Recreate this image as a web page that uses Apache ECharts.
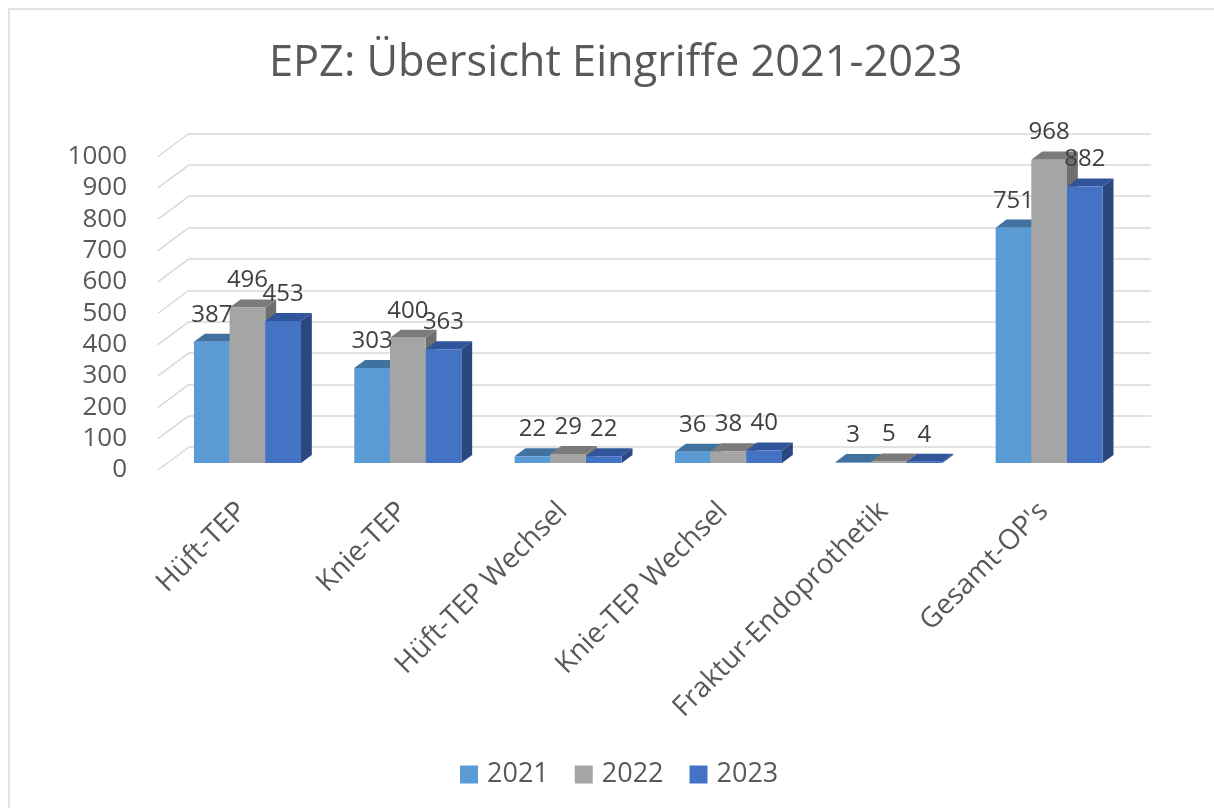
<!DOCTYPE html>
<html>
<head>
<meta charset="utf-8">
<script src="https://cdn.jsdelivr.net/npm/echarts@6/dist/echarts.min.js"></script>
<style>
  html, body { margin: 0; padding: 0; background: #fff; }
  #chart { width: 1214px; height: 808px; }
</style>
</head>
<body>
<div id="chart"></div>
<script>
const categories = ["Hüft-TEP", "Knie-TEP", "Hüft-TEP Wechsel", "Knie-TEP Wechsel", "Fraktur-Endoprothetik", "Gesamt-OP's"]
const years = ["2021", "2022", "2023"]
const values2021 = [387, 303, 22, 36, 3, 751]
const values2022 = [496, 400, 29, 38, 5, 968]
const values2023 = [453, 363, 22, 40, 4, 882]
const yTicks = [0, 100, 200, 300, 400, 500, 600, 700, 800, 900, 1000]

// face colours: front, top, side
const palette = [
  { front: "#5B9BD5", top: "#41729F", side: "#3A6690" },
  { front: "#A5A5A5", top: "#7B7B7B", side: "#6F6F6F" },
  { front: "#4472C4", top: "#30559A", side: "#2A4780" },
]

// oblique depth of the floor (front edge -> back wall)
const depthX = 31
const depthY = -23
const barStart = 0.3   // bar front face sits at this fraction of the depth
const barDepth = 0.35
const barShare = 0.2225 // bar width as share of the category band

const gridFront = { left: 158, top: 156.5, width: 962, height: 313.5 }
const gridBack = { left: 158 + depthX, top: 156.5 + depthY, width: 962, height: 313.5 }
const gridLabels = { left: 162, top: 156.5, width: 962, height: 313.5 }

function barRenderer(k) {
  const c = palette[k]
  return function (params, api) {
    const cat = api.value(0)
    const val = api.value(1)
    const base = api.coord([cat, 0])
    const top = api.coord([cat, val])
    const band = api.size([1, 0])[0]
    const w = band * barShare
    const x0 = base[0] - 1.5 * w + k * w + depthX * barStart
    const yb = base[1] + depthY * barStart
    const yt = top[1] + depthY * barStart
    const dx = depthX * barDepth
    const dy = depthY * barDepth
    return {
      type: "group",
      children: [
        {
          type: "polygon",
          shape: { points: [[x0 + w, yt], [x0 + w + dx, yt + dy], [x0 + w + dx, yb + dy], [x0 + w, yb]] },
          style: { fill: c.side },
        },
        {
          type: "polygon",
          shape: { points: [[x0, yt], [x0 + w, yt], [x0 + w + dx, yt + dy], [x0 + dx, yt + dy]] },
          style: { fill: c.top },
        },
        {
          type: "rect",
          shape: { x: x0, y: yt, width: w, height: yb - yt },
          style: { fill: c.front },
        },
        {
          type: "text",
          z2: 10,
          style: {
            text: String(val),
            x: x0 + w / 2,
            y: yt - 27,
            align: "center",
            verticalAlign: "middle",
            fill: "#404040",
            font: "24px 'Open Sans'",
          },
        },
      ],
    }
  }
}

const chart = echarts.init(document.getElementById("chart"))

const series = [
  {
    name: "floor",
    type: "custom",
    xAxisIndex: 0,
    yAxisIndex: 0,
    silent: true,
    z: 1,
    data: yTicks.map((v) => [0, v]),
    renderItem: (params, api) => {
      const p = api.coord([0, api.value(1)])
      const x = params.coordSys.x
      return {
        type: "line",
        shape: { x1: x, y1: p[1], x2: x + depthX, y2: p[1] + depthY },
        style: { stroke: "#D9D9D9", lineWidth: 1.5 },
      }
    },
  },
]

;[values2021, values2022, values2023].forEach((vals, k) => {
  series.push({
    name: years[k],
    type: "custom",
    xAxisIndex: 0,
    yAxisIndex: 0,
    z: 3,
    itemStyle: { color: palette[k].front },
    encode: { x: 0, y: 1 },
    data: vals.map((v, i) => [i, v]),
    renderItem: barRenderer(k),
  })
})

chart.setOption({
  backgroundColor: "#fff",
  animation: false,
  title: {
    text: "EPZ: Übersicht Eingriffe 2021-2023",
    left: 264,
    top: 37,
    textStyle: { fontFamily: "Open Sans", fontSize: 43.3, fontWeight: "normal", color: "#595959" },
  },
  legend: {
    data: years,
    top: 756,
    left: 455,
    icon: "rect",
    itemWidth: 18,
    itemHeight: 18,
    itemGap: 26,
    textStyle: { fontFamily: "Open Sans", fontSize: 27, color: "#595959", padding: [0, 0, 0, 4] },
  },
  graphic: [
    {
      type: "rect",
      silent: true,
      shape: { x: 9, y: 9, width: 1300, height: 900 },
      style: { fill: "none", stroke: "#D9D9D9", lineWidth: 1.5 },
    },
  ],
  grid: [gridFront, gridBack, gridLabels],
  xAxis: [
    { gridIndex: 0, type: "category", data: categories, show: false },
    { gridIndex: 1, type: "category", data: categories, show: false },
    {
      gridIndex: 2,
      type: "category",
      data: categories,
      axisLine: { show: false },
      axisTick: { show: false },
      axisLabel: {
        rotate: 45,
        margin: 37,
        interval: 0,
        fontFamily: "Open Sans",
        fontSize: 28,
        color: "#595959",
      },
    },
  ],
  yAxis: [
    {
      gridIndex: 0,
      type: "value",
      min: 0,
      max: 1000,
      interval: 100,
      axisLine: { show: false },
      axisTick: { show: false },
      splitLine: { show: false },
      axisLabel: {
        margin: 31,
        fontFamily: "Open Sans",
        fontSize: 26,
        color: "#595959",
        formatter: (v) => String(v),
      },
    },
    {
      gridIndex: 1,
      type: "value",
      min: 0,
      max: 1000,
      interval: 100,
      axisLine: { show: false },
      axisTick: { show: false },
      axisLabel: { show: false },
      splitLine: { lineStyle: { color: "#D9D9D9", width: 1.5 } },
    },
    { gridIndex: 2, type: "value", min: 0, max: 1000, show: false },
  ],
  series: series,
})
</script>
</body>
</html>
